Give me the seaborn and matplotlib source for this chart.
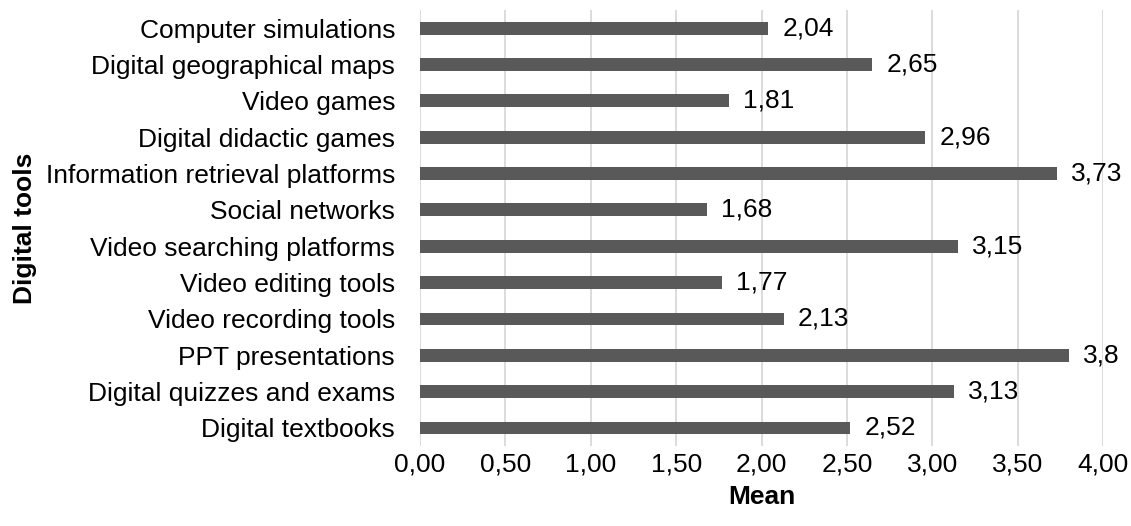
import matplotlib
matplotlib.use("Agg")
import matplotlib.pyplot as plt
import seaborn as sns
import pandas as pd
from matplotlib.ticker import FuncFormatter

categories = [
    "Computer simulations",
    "Digital geographical maps",
    "Video games",
    "Digital didactic games",
    "Information retrieval platforms",
    "Social networks",
    "Video searching platforms",
    "Video editing tools",
    "Video recording tools",
    "PPT presentations",
    "Digital quizzes and exams",
    "Digital textbooks",
]
means = [2.04, 2.65, 1.81, 2.96, 3.73, 1.68, 3.15, 1.77, 2.13, 3.80, 3.13, 2.52]
x_ticks = [0.0, 0.5, 1.0, 1.5, 2.0, 2.5, 3.0, 3.5, 4.0]

sns.set_theme(style="white")
plt.rcParams["font.family"] = ["Liberation Sans", "DejaVu Sans"]

df = pd.DataFrame({"tool": categories, "mean": means})

fig = plt.figure(figsize=(11.31, 5.26), dpi=100)
ax = fig.add_axes([0.3714, 0.152, 0.6038, 0.829])

sns.barplot(data=df, x="mean", y="tool", order=categories, orient="h",
            color="#595959", saturation=1, width=0.35, ax=ax, zorder=3)

for p in ax.patches:
    p.set_edgecolor("none")

FS = 19
labels = [str(v).replace(".", ",") for v in means]
ax.bar_label(ax.containers[0], labels=labels, padding=10, fontsize=FS, color="#000000")

ax.set_xlim(0, 4.0)
ax.set_ylim(11.5, -0.5)
ax.set_xticks(x_ticks)
ax.xaxis.set_major_formatter(FuncFormatter(lambda v, p: f"{v:.2f}".replace(".", ",")))
ax.grid(axis="x", color="#d9d9d9", linewidth=1.3, zorder=0)
ax.grid(axis="y", visible=False)
for s in ax.spines.values():
    s.set_visible(False)
ax.tick_params(axis="y", length=0, pad=18, labelsize=FS, labelcolor="#000000")
ax.tick_params(axis="x", length=0, pad=5, labelsize=FS, labelcolor="#000000")

ax.set_xlabel("Mean", fontsize=FS, fontweight="bold", labelpad=6, color="#000000")
ax.set_ylabel("Digital tools", fontsize=FS, fontweight="bold", labelpad=6, color="#000000")

fig.savefig("out.png", dpi=100)
